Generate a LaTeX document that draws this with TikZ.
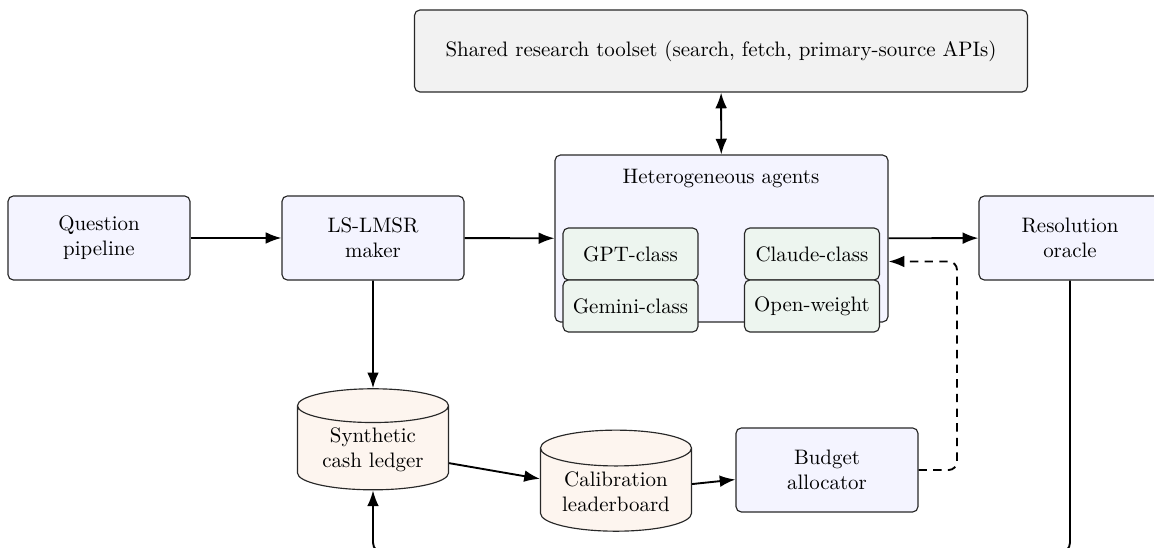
\documentclass[tikz,border=0pt]{standalone}
\usetikzlibrary{arrows.meta,shapes.geometric,positioning,calc}
\definecolor{boxblue}{RGB}{244,244,255}
\definecolor{boxgray}{RGB}{242,242,242}
\definecolor{boxgreen}{RGB}{237,245,239}
\definecolor{boxcream}{RGB}{253,245,239}
\definecolor{edge}{RGB}{40,40,40}
\tikzset{
  base/.style={draw=edge, line width=0.55pt, rounded corners=2.6pt, align=center, inner sep=2pt, font=\normalsize},
  proc/.style={base, fill=boxblue, minimum width=87pt, minimum height=40.2pt},
  tool/.style={base, fill=boxgray, minimum width=293pt, minimum height=39.2pt},
  group/.style={base, fill=boxblue, minimum width=159.2pt, minimum height=79.8pt},
  agent/.style={base, fill=boxgreen, minimum width=64.5pt, minimum height=24.9pt},
  store/.style={draw=edge, line width=0.55pt, fill=boxcream, cylinder, shape border rotate=90, shape aspect=0.32, minimum width=72.2pt, minimum height=48.3pt, align=center, inner sep=1pt},
  flow/.style={line width=0.9pt, -{Latex[length=7.5pt,width=5.6pt]}},
  biflow/.style={line width=0.9pt, {Latex[length=7.5pt,width=5.6pt]}-{Latex[length=7.5pt,width=5.6pt]}},
  feedback/.style={flow, dashed, dash pattern=on 4pt off 3pt, rounded corners=4pt},
  loop/.style={flow, rounded corners=5pt}
}
\begin{document}
\begin{tikzpicture}[x=0.478pt,y=-0.478pt]
\useasboundingbox (0,0) rectangle (1154,548);
\node[tool] (tools) at (721,51) {Shared research toolset (search, fetch, primary-source APIs)};
\node[group] (agents) at (721.5,238.5) {};
\node (agtitle) at (721,179) {Heterogeneous agents};
\node[agent] (gpt) at (630.5,254) {GPT-class};
\node[agent] (gemini) at (630.5,306) {Gemini-class};
\node[agent] (claude) at (812,254) {Claude-class};
\node[agent] (open) at (812,306) {Open-weight};
\node[proc] (question) at (99,238) {Question\\pipeline};
\node[proc] (maker) at (373,238) {LS-LMSR\\maker};
\node[proc] (oracle) at (1070,238) {Resolution\\oracle};
\node[store] (ledger) at (373,450) {Synthetic\\cash ledger};
\node[store] (board) at (616,492) {Calibration\\leaderboard};
\node[proc] (budget) at (827,470) {Budget\\allocator};
\coordinate (fbturn) at (957,0);
\coordinate (loopy) at (0,553);

\draw[flow] (question) -- (maker);
\draw[flow] (maker) -- (agents);
\draw[flow] (agents) -- (oracle);
\draw[biflow] (tools) -- (agents);
\draw[flow] (maker) -- (ledger);
\draw[flow] (ledger) -- (board);
\draw[flow] (board) -- (budget);
\draw[feedback] (budget.east) -- (budget.east -| fbturn) -- ($(agents.east -| fbturn)+(0,23)$) -- ($(agents.east)+(0,23)$);
\draw[loop] (oracle.south) -- (oracle.south |- loopy) -- (ledger.south |- loopy) -- (ledger.south);
\end{tikzpicture}
\end{document}
